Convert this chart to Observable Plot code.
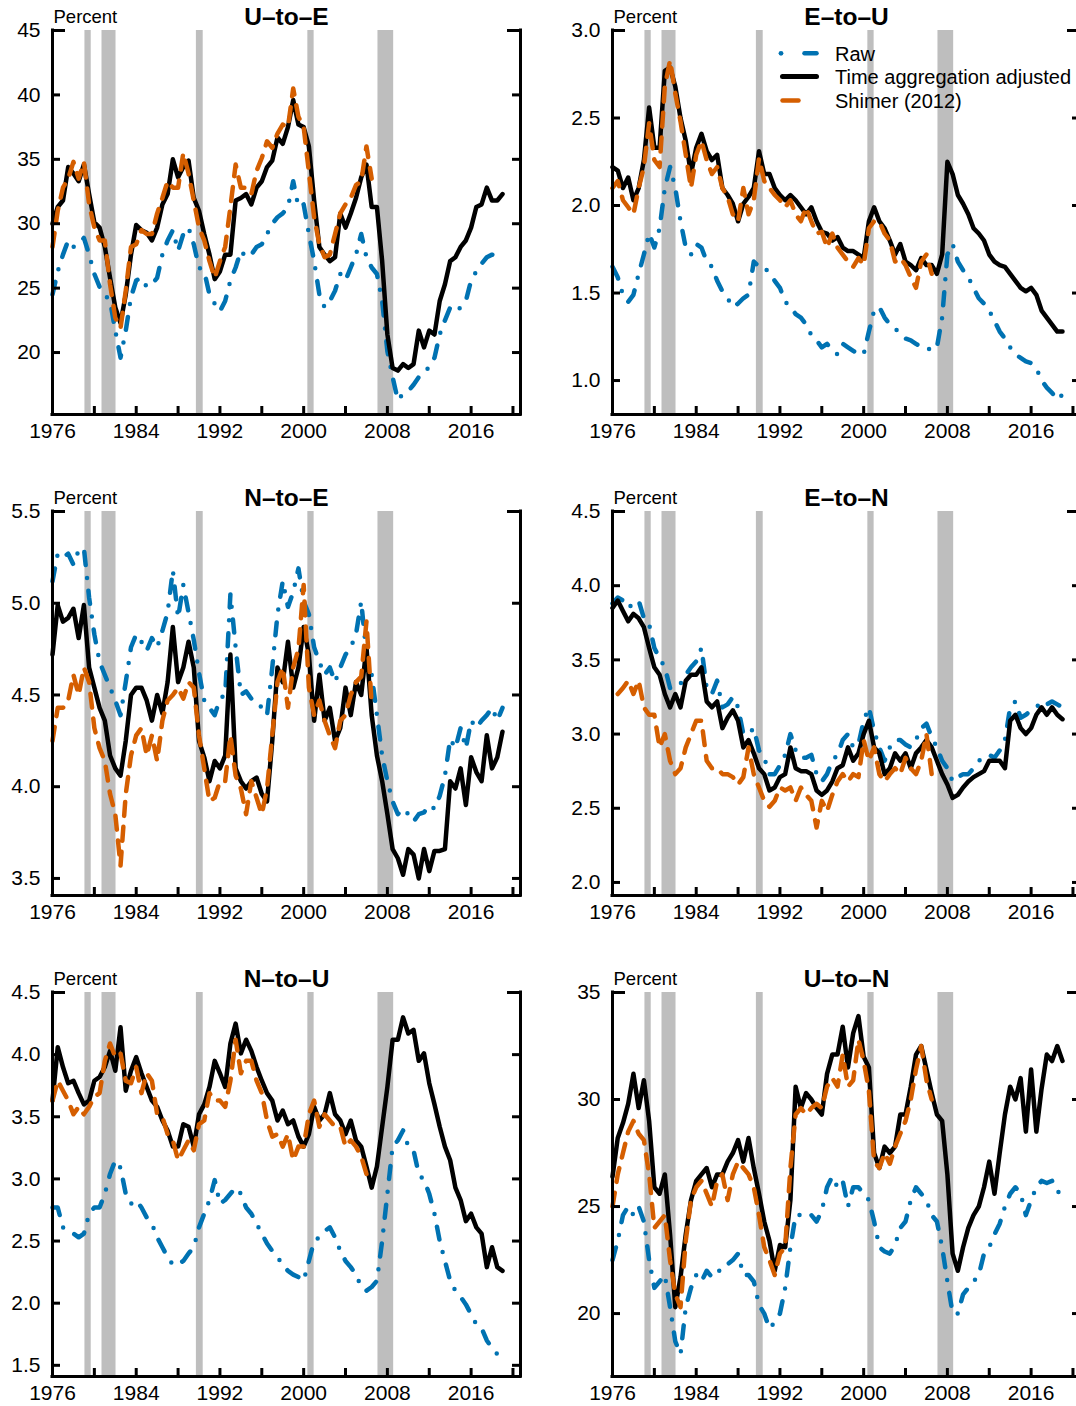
<!DOCTYPE html>
<html><head><meta charset="utf-8">
<script src="https://cdn.jsdelivr.net/npm/d3@7"></script>
<script src="https://cdn.jsdelivr.net/npm/@observablehq/plot@0.6"></script>
<style>
html,body{margin:0;padding:0;background:#fff;overflow:hidden;width:1076px;height:1406px;}
#wrap{position:relative;width:1076px;height:1406px;overflow:hidden;}
.panel{position:absolute;}
</style></head><body><div id="wrap"></div>
<script>
// ---------- shared axis data ----------
const xDomain = [1976, 2020.72];
const xTicks = [1976, 1980, 1984, 1988, 1992, 1996, 2000, 2004, 2008, 2012, 2016, 2020];
const xLabels = [1976, 1984, 1992, 2000, 2008, 2016];
const recessionStart = [1979.1, 1980.73, 1989.75, 2000.4, 2007.1];
const recessionEnd   = [1979.7, 1982.07, 1990.4, 2001.0, 2008.6];
// semi-annual observation dates, 1976.0 ... 2019.0
const halfYears = d3.range(87).map(i => 1976 + i / 2);
const seriesNames = ["Raw", "Time aggregation adjusted", "Shimer (2012)"];

// ---------- U-to-E ----------
const uteRaw = [24.5,26.3,27.6,28.7,28.2,28.4,28.9,27.6,26.1,25.1, 24.5,24.0,21.7,19.6,21.7,24.3,25.6,25.8,25.1,25.3,
 25.8,27.6,28.7,29.5,27.9,29.2,29.7,28.4,26.6,26.3, 24.5,23.8,23.2,24.0,25.6,26.6,27.9,27.4,27.6,28.2,
 28.4,29.2,30.0,30.5,30.8,31.3,33.3,31.3,31.5,29.2, 27.1,24.5,23.5,24.0,24.8,26.1,25.6,26.6,27.6,29.2,
 27.4,26.6,26.1,24.0,20.1,18.1,16.3,16.8,17.0,17.5, 18.1,18.6,18.8,19.6,21.4,22.5,23.5,23.2,23.5,24.0,
 25.6,26.3,26.9,27.4,27.6,27.4,27.4];
const uteAdj = [30.0,31.3,31.8,34.4,33.9,33.3,34.6,32.3,30.1,29.7, 28.2,25.8,23.5,22.3,24.5,27.6,29.9,29.5,29.3,28.7,
 29.7,31.5,32.3,35.0,33.6,34.4,34.9,32.0,31.0,29.2, 27.6,25.7,26.3,27.6,27.6,31.8,32.0,32.3,31.5,32.8,
 33.3,34.4,34.9,36.7,36.2,37.5,39.6,37.7,37.5,36.0, 31.8,28.2,27.6,27.1,27.4,30.8,29.7,30.8,32.0,33.6,
 34.6,31.3,31.3,27.1,21.4,18.8,18.6,19.1,18.8,19.1, 21.7,20.4,21.7,21.4,24.0,25.3,27.1,27.4,28.2,28.7,
 29.7,31.3,31.5,32.8,31.8,31.8,32.3];
const uteShimer = [28.2,31.0,32.8,33.5,34.8,33.5,34.8,31.5,29.7,28.7, 28.7,25.3,22.7,21.9,24.8,28.2,28.4,29.5,29.2,29.2,
 30.8,32.0,33.3,32.8,32.8,35.5,33.9,31.8,29.7,28.7, 27.1,25.8,27.1,28.2,31.3,34.6,32.8,32.8,32.3,34.1,
 35.1,36.4,35.9,37.0,37.7,37.5,40.5,38.3,37.5,34.0, 30.5,28.4,27.4,27.6,29.2,30.8,31.5,32.0,33.0,33.3,
 36.0,33.5];

// ---------- E-to-U ----------
const etuRaw = [1.65,1.59,1.49,1.45,1.49,1.61,1.72,1.84,1.76,1.87, 2.10,2.22,2.10,1.91,1.76,1.72,1.78,1.76,1.68,1.65,
 1.57,1.51,1.47,1.42,1.44,1.47,1.49,1.68,1.65,1.65, 1.61,1.57,1.53,1.45,1.42,1.38,1.36,1.32,1.26,1.23,
 1.19,1.21,1.17,1.15,1.21,1.19,1.17,1.15,1.15,1.28, 1.40,1.42,1.36,1.32,1.30,1.26,1.24,1.23,1.21,1.19,
 1.19,1.17,1.19,1.36,1.72,1.78,1.68,1.63,1.59,1.53, 1.47,1.44,1.40,1.34,1.28,1.24,1.19,1.15,1.13,1.11,
 1.10,1.07,1.00,0.96,0.93,0.89,0.92];
const etuAdj = [2.22,2.20,2.10,2.16,2.03,2.10,2.26,2.56,2.33,2.33, 2.77,2.79,2.68,2.50,2.37,2.18,2.33,2.41,2.31,2.26,
 2.29,2.10,2.06,2.01,1.91,2.01,2.05,2.10,2.31,2.18, 2.18,2.10,2.06,2.03,2.06,2.03,1.99,1.95,1.99,1.91,
 1.85,1.84,1.80,1.82,1.76,1.74,1.74,1.72,1.70,1.91, 1.99,1.91,1.87,1.80,1.72,1.78,1.68,1.66,1.63,1.70,
 1.66,1.66,1.61,1.72,2.25,2.18,2.06,2.01,1.95,1.87, 1.84,1.80,1.72,1.68,1.66,1.65,1.61,1.57,1.53,1.51,
 1.53,1.49,1.40,1.36,1.32,1.28,1.28];
const etuShimer = [2.10,2.14,2.03,1.99,1.95,2.10,2.22,2.47,2.26,2.22, 2.68,2.83,2.64,2.48,2.29,2.10,2.29,2.37,2.26,2.18,
 2.22,2.10,2.05,1.95,1.91,2.10,1.95,2.03,2.27,2.14, 2.10,2.06,2.03,1.99,2.03,1.95,1.91,1.99,1.91,1.84,
 1.85,1.76,1.84,1.76,1.72,1.68,1.65,1.70,1.66,1.87, 1.91,1.91,1.84,1.80,1.68,1.70,1.66,1.59,1.53,1.68,
 1.72,1.61];

// ---------- N-to-E ----------
const nteRaw = [5.12,5.27,5.25,5.27,5.21,5.29,5.30,5.03,4.83,4.68, 4.61,4.54,4.47,4.39,4.57,4.76,4.83,4.79,4.74,4.81,
 4.76,4.85,4.95,5.18,4.92,5.10,4.95,4.80,4.62,4.47, 4.43,4.39,4.48,4.50,5.05,4.76,4.50,4.52,4.48,4.47,
 4.43,4.39,4.65,4.94,5.12,4.98,5.06,5.19,5.01,4.94, 4.76,4.68,4.61,4.65,4.57,4.65,4.72,4.76,4.83,5.01,
 4.72,4.61,4.39,4.17,4.03,3.92,3.85,3.88,3.85,3.81, 3.85,3.86,3.90,3.88,3.95,4.06,4.26,4.21,4.32,4.21,
 4.36,4.32,4.36,4.39,4.43,4.36,4.43];
const nteAdj = [4.72,4.99,4.90,4.92,4.97,4.81,4.99,4.65,4.54,4.43, 4.36,4.17,4.10,4.06,4.25,4.50,4.54,4.54,4.47,4.36,
 4.50,4.40,4.57,4.87,4.57,4.65,4.79,4.65,4.25,4.16, 4.03,4.14,4.10,4.17,4.72,4.10,4.03,3.99,4.03,4.05,
 3.96,3.92,4.25,4.65,4.57,4.79,4.54,4.65,4.87,4.72, 4.36,4.61,4.36,4.43,4.25,4.32,4.54,4.39,4.57,4.50,
 4.76,4.39,4.17,4.03,3.85,3.66,3.61,3.52,3.66,3.63, 3.50,3.66,3.54,3.65,3.65,3.66,4.03,3.99,4.10,3.90,
 4.16,4.08,4.03,4.28,4.10,4.16,4.30];
const nteShimer = [4.25,4.43,4.43,4.47,4.61,4.50,4.65,4.57,4.32,4.21, 4.14,3.96,3.85,3.57,3.96,4.17,4.28,4.32,4.17,4.28,
 4.14,4.36,4.47,4.50,4.54,4.48,4.57,4.54,4.28,4.10, 3.92,3.94,4.03,4.03,4.28,4.06,3.99,3.85,4.03,3.94,
 3.85,3.99,4.28,4.57,4.65,4.43,4.65,4.75,5.10,4.54, 4.39,4.47,4.36,4.28,4.21,4.36,4.39,4.50,4.57,4.60,
 4.90,4.45];

// ---------- E-to-N ----------
const etnRaw = [3.88,3.92,3.90,3.85,3.88,3.90,3.78,3.74,3.58,3.51, 3.45,3.31,3.34,3.34,3.40,3.45,3.49,3.58,3.31,3.27,
 3.36,3.18,3.20,3.25,3.18,3.00,3.00,3.04,2.89,2.84, 2.73,2.73,2.79,2.86,3.00,2.89,2.84,2.84,2.86,2.73,
 2.68,2.73,2.82,2.86,2.96,3.00,2.91,2.93,3.09,3.18, 3.02,2.91,2.82,2.91,2.96,2.96,2.93,2.91,2.96,3.04,
 3.07,2.98,2.91,2.82,2.77,2.68,2.71,2.73,2.73,2.77, 2.82,2.84,2.86,2.84,2.89,2.96,3.18,3.22,3.11,3.13,
 3.16,3.18,3.22,3.20,3.22,3.20,3.18];
const etnAdj = [3.85,3.90,3.83,3.76,3.81,3.78,3.72,3.58,3.45,3.40, 3.27,3.18,3.27,3.18,3.36,3.40,3.40,3.45,3.22,3.18,
 3.22,3.04,3.11,3.16,3.09,2.91,2.96,2.87,2.77,2.73, 2.62,2.64,2.71,2.73,2.91,2.77,2.75,2.75,2.73,2.62,
 2.59,2.62,2.68,2.77,2.79,2.91,2.82,2.87,3.00,3.09, 2.91,2.87,2.73,2.77,2.87,2.82,2.87,2.77,2.87,2.91,
 2.96,2.91,2.82,2.73,2.66,2.57,2.59,2.64,2.68,2.71, 2.73,2.75,2.82,2.82,2.82,2.77,3.09,3.13,3.04,3.00,
 3.04,3.13,3.18,3.13,3.18,3.13,3.10];
const etnShimer = [null,3.27,3.31,3.36,3.27,3.36,3.18,3.13,3.13,2.91, 3.00,2.82,2.73,2.77,2.91,3.00,3.09,3.09,2.82,2.77,
 2.77,2.73,2.73,2.71,2.66,2.71,2.91,2.73,2.64,2.55, 2.51,2.55,2.64,2.62,2.64,2.55,2.64,2.59,2.55,2.37,
 2.55,2.48,2.59,2.68,2.73,2.68,2.73,2.71,2.96,2.82, 2.91,2.73,2.68,2.73,2.77,2.73,2.84,2.77,2.73,2.82,
 3.00,2.73];

// ---------- N-to-U ----------
const ntuRaw = [2.77,2.77,2.61,2.58,2.56,2.53,2.56,2.72,2.77,2.77, 2.88,3.04,3.15,3.09,2.88,2.80,2.83,2.77,2.69,2.64,
 2.53,2.45,2.37,2.31,2.31,2.34,2.40,2.45,2.61,2.72, 2.83,2.99,2.80,2.83,2.88,2.93,2.88,2.77,2.72,2.64,
 2.56,2.48,2.42,2.37,2.31,2.26,2.23,2.21,2.18,2.34, 2.50,2.53,2.58,2.61,2.53,2.42,2.34,2.29,2.23,2.13,
 2.10,2.13,2.18,2.50,2.88,3.26,3.31,3.39,3.26,3.23, 3.04,2.99,2.88,2.72,2.50,2.34,2.18,2.10,2.05,1.99,
 1.91,1.83,1.80,1.70,1.64,1.59,1.56];
const ntuAdj = [3.63,4.06,3.90,3.77,3.79,3.69,3.60,3.63,3.79,3.82, 3.90,4.03,3.87,4.22,3.71,3.87,3.98,3.85,3.74,3.63,
 3.58,3.47,3.39,3.26,3.26,3.44,3.42,3.26,3.52,3.60, 3.74,3.95,3.85,3.74,4.09,4.25,4.01,4.12,4.03,3.90,
 3.79,3.69,3.63,3.47,3.55,3.44,3.47,3.34,3.26,3.36, 3.58,3.47,3.52,3.69,3.52,3.47,3.36,3.47,3.31,3.26,
 3.10,2.93,3.10,3.42,3.74,4.12,4.12,4.30,4.17,4.20, 3.95,4.01,3.77,3.60,3.42,3.26,3.15,2.93,2.83,2.66,
 2.72,2.61,2.56,2.29,2.45,2.29,2.26];
const ntuShimer = [3.63,3.79,3.71,3.63,3.52,3.58,3.52,3.58,3.66,3.69, 3.95,4.09,3.98,4.01,3.79,3.77,3.90,3.69,3.85,3.79,
 3.52,3.50,3.36,3.31,3.15,3.23,3.31,3.23,3.44,3.47, 3.69,3.63,3.63,3.58,3.79,4.12,3.85,3.95,3.95,3.79,
 3.69,3.47,3.34,3.36,3.26,3.36,3.15,3.26,3.26,3.52, 3.63,3.42,3.52,3.47,3.42,3.42,3.26,3.31,3.26,3.18,
 3.04,2.99];

// ---------- U-to-N ----------
const utnRaw = [22.5,23.4,24.6,25.0,24.6,25.0,24.3,22.5,21.2,21.5, 21.8,20.3,18.7,18.1,20.3,21.2,21.8,21.5,22.0,21.7,
 22.0,22.0,22.3,22.5,22.8,21.8,21.8,21.5,20.4,20.0, 19.3,19.6,20.0,21.2,23.1,24.6,24.6,24.5,24.6,24.3,
 24.8,25.9,26.4,25.9,26.2,25.0,25.9,25.9,25.6,25.3, 24.3,23.1,22.9,22.8,23.2,24.0,24.3,25.3,25.9,25.6,
 25.3,24.6,24.3,23.1,21.5,20.0,20.0,20.9,21.2,21.5, 21.8,22.8,23.1,23.7,24.2,25.0,25.6,25.9,25.6,24.6,
 25.3,25.9,26.2,26.1,26.2,25.7,25.6];
const utnAdj = [26.4,28.2,28.9,29.8,31.2,29.6,30.9,29.0,25.9,25.6, 26.5,23.7,20.3,21.7,23.7,25.3,26.2,26.5,26.8,25.9,
 26.5,26.5,27.1,27.5,28.1,27.1,28.2,26.8,25.6,24.3, 23.4,22.0,23.2,23.1,25.3,30.6,29.6,30.3,30.0,29.6,
 29.3,31.2,32.1,32.1,33.4,31.5,33.1,33.9,32.0,31.5, 27.5,26.8,27.8,27.5,27.8,29.3,29.3,30.6,32.1,32.5,
 31.4,30.3,29.3,29.0,26.5,22.8,22.0,23.1,24.0,24.6, 25.0,25.9,27.1,25.6,27.5,29.3,30.6,30.0,31.0,28.5,
 31.4,28.5,30.5,32.1,31.8,32.5,31.8];
const utnShimer = [25.0,26.5,27.5,28.5,29.0,28.4,28.1,26.5,24.0,24.3, 24.6,22.5,20.9,20.3,23.4,25.3,25.9,26.2,25.6,25.0,
 26.2,26.5,25.3,26.5,27.1,26.8,26.5,25.9,24.6,23.1, 22.5,21.8,22.8,23.1,26.8,29.3,29.6,29.3,29.6,29.8,
 29.6,30.6,31.0,30.6,32.1,30.6,30.9,32.8,31.8,30.4, 27.1,26.8,27.5,27.0,27.8,28.4,29.0,30.0,31.4,32.5,
 30.9,30.0];

// ---------- panel definitions ----------
const panelTitles = ["U–to–E", "E–to–U", "N–to–E", "E–to–N", "N–to–U", "U–to–N"];
const yDomains = [[15.19, 45], [0.806, 3.0], [3.407, 5.5], [1.912, 4.5], [1.41, 4.5], [17.06, 35]];
const yTicks = [[20,25,30,35,40,45], [1.0,1.5,2.0,2.5,3.0], [3.5,4.0,4.5,5.0,5.5],
                [2.0,2.5,3.0,3.5,4.0,4.5], [1.5,2.0,2.5,3.0,3.5,4.0,4.5], [20,25,30,35]];
const yFormats = ["d", ".1f", ".1f", ".1f", ".1f", "d"];
const rawSeries = [uteRaw, etuRaw, nteRaw, etnRaw, ntuRaw, utnRaw];
const adjSeries = [uteAdj, etuAdj, nteAdj, etnAdj, ntuAdj, utnAdj];
const shimerSeries = [uteShimer, etuShimer, nteShimer, etnShimer, ntuShimer, utnShimer];

// ---------- styling ----------
const FONT = "'Liberation Sans', Arial, Helvetica, sans-serif";
const BLUE = "#0072B2", ORANGE = "#D55E00", SHADE = "#BEBEBE";
const RAW_DASH = "13,13,0,13", SHIMER_DASH = "14,11";
const W = 540, H = 481, ML = 52, MR = 20, MT = 30, MB = 67;
const PW = W - ML - MR, PH = H - MT - MB;
const TICK = 8, TOPTICK = 13, AXW = 3;

const recessions = recessionStart.map((s, i) => ({s, e: recessionEnd[i]}));
const wrap = document.getElementById("wrap");

function toRows(vals) { return vals.map((v, i) => ({t: halfYears[i], v})); }

panelTitles.forEach((title, k) => {
  const col = k % 2, row = Math.floor(k / 2);
  const dom = yDomains[k];
  const ticks = yTicks[k];
  const topTick = ticks.slice(-1), otherTicks = ticks.slice(0, -1);
  const fmt = d3.format(yFormats[k]);
  const axisStyle = {stroke: "black", strokeWidth: AXW};
  const svg = Plot.plot({
    width: W, height: H,
    marginLeft: ML, marginRight: MR, marginTop: MT, marginBottom: MB,
    style: {fontFamily: FONT, fontSize: "21px", background: "transparent", overflow: "visible", color: "black"},
    x: {domain: xDomain},
    y: {domain: dom},
    marks: [
      Plot.rect(recessions, {x1: "s", x2: "e", y1: () => dom[0], y2: () => dom[1], fill: SHADE}),
      Plot.line(toRows(rawSeries[k]), {x: "t", y: "v", stroke: BLUE, strokeWidth: 4.5,
        strokeDasharray: RAW_DASH, strokeLinecap: "round", strokeLinejoin: "round"}),
      Plot.line(toRows(adjSeries[k]), {x: "t", y: "v", stroke: "black", strokeWidth: 4.5,
        strokeLinejoin: "round"}),
      Plot.line(toRows(shimerSeries[k]), {x: "t", y: "v", stroke: ORANGE, strokeWidth: 4.5,
        strokeDasharray: SHIMER_DASH, strokeLinecap: "round", strokeLinejoin: "round"}),
      Plot.ruleX([xDomain[0]], {...axisStyle, strokeLinecap: "square"}),
      Plot.ruleX([xDomain[1]], {...axisStyle, strokeLinecap: "square"}),
      Plot.ruleY([dom[0]], {...axisStyle, strokeLinecap: "square"}),
      Plot.tickY(otherTicks, {y: d => d, insetRight: PW - TICK, ...axisStyle}),
      Plot.tickY(otherTicks, {y: d => d, insetLeft: PW - TICK, ...axisStyle}),
      Plot.tickY(topTick, {y: d => d, insetRight: PW - TOPTICK, ...axisStyle}),
      Plot.tickY(topTick, {y: d => d, insetLeft: PW - TOPTICK, ...axisStyle}),
      Plot.tickX(xTicks, {x: d => d, insetTop: PH - TICK, ...axisStyle}),
      Plot.axisY(ticks, {anchor: "left", tickSize: 0, tickPadding: 12, tickFormat: fmt, label: null, fontSize: 21}),
      Plot.axisX(xLabels, {anchor: "bottom", tickSize: 0, tickPadding: 9, tickFormat: d => String(d), label: null, fontSize: 21}),
      Plot.text(["Percent"], {text: d => d, frameAnchor: "top-left", textAnchor: "start", lineAnchor: "bottom",
        dx: 1, dy: -8, fontSize: 18.5}),
      Plot.text([title], {text: d => d, frameAnchor: "top", textAnchor: "middle", lineAnchor: "bottom",
        dy: -6, fontSize: 24.5, fontWeight: "bold"})
    ]
  });
  svg.classList.add("panel");
  svg.style.left = (col * 560) + "px";
  svg.style.top = (row * 481) + "px";
  svg.style.position = "absolute";
  wrap.appendChild(svg);

  if (k === 1) {
    // legend inside the E-to-U panel
    const g = d3.select(svg).append("g")
      .attr("font-family", FONT).attr("font-size", 20).attr("text-anchor", "start");
    const ly = [53.3, 76.5, 100.5];
    g.append("circle").attr("cx", 221).attr("cy", ly[0]).attr("r", 2.4).attr("fill", BLUE);
    g.append("line").attr("x1", 244.5).attr("x2", 256.5).attr("y1", ly[0]).attr("y2", ly[0])
      .attr("stroke", BLUE).attr("stroke-width", 4.5).attr("stroke-linecap", "round");
    g.append("line").attr("x1", 222.5).attr("x2", 256.5).attr("y1", ly[1]).attr("y2", ly[1])
      .attr("stroke", "black").attr("stroke-width", 5).attr("stroke-linecap", "round");
    g.append("line").attr("x1", 222.5).attr("x2", 238.5).attr("y1", ly[2]).attr("y2", ly[2])
      .attr("stroke", ORANGE).attr("stroke-width", 4.5).attr("stroke-linecap", "round");
    seriesNames.forEach((name, i) => {
      g.append("text").attr("x", 275).attr("y", ly[i] + 7.2)
        .attr("text-anchor", "start").attr("fill", "black").text(name);
    });
  }
});
</script></body></html>
